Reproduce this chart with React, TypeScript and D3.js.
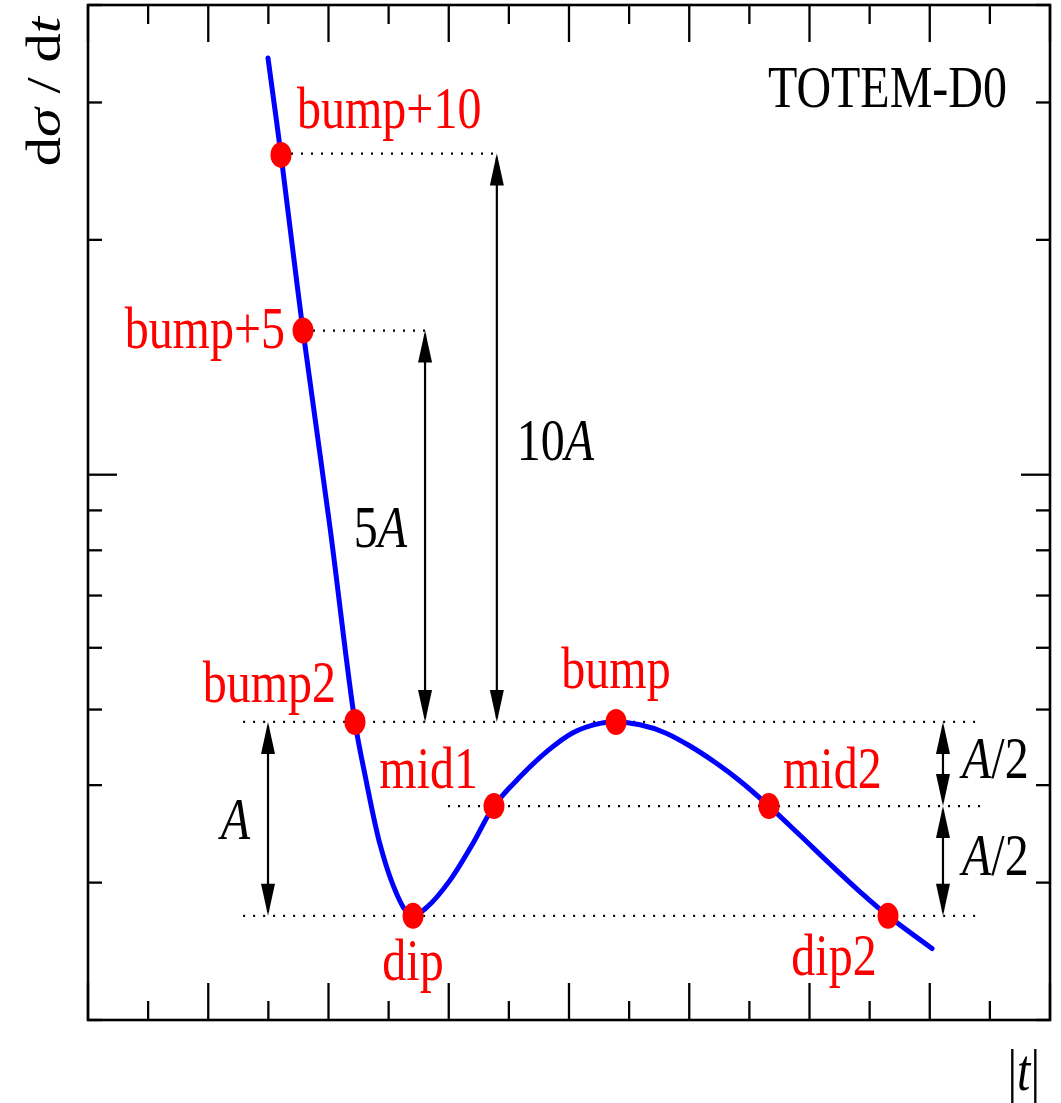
import * as d3 from 'd3';

// courbe dσ/dt en fonction de |t|
const curveT = [0.1497, 0.1605, 0.1788, 0.2012, 0.222, 0.2304, 0.2428, 0.2536, 0.2636, 0.2703, 0.2819, 0.301, 0.3202, 0.3376, 0.3593, 0.3817, 0.4033, 0.4258, 0.4391, 0.459, 0.4798, 0.5006, 0.5214, 0.5422, 0.5663, 0.5921, 0.617, 0.642, 0.6653, 0.7019];
const curveSigma = [34.2, 25.7, 15.29, 8.57, 4.82, 4.12, 3.36, 2.98, 2.77, 2.72, 2.79, 3.02, 3.37, 3.76, 4.1, 4.42, 4.67, 4.8, 4.82, 4.78, 4.67, 4.49, 4.28, 4.05, 3.76, 3.45, 3.17, 2.92, 2.72, 2.47];

// points caractéristiques
const pointNames = ['bump+10', 'bump+5', 'bump2', 'dip', 'mid1', 'bump', 'mid2', 'dip2'];
const pointT = [0.1605, 0.1788, 0.222, 0.2703, 0.3376, 0.4391, 0.5663, 0.6653];
const pointSigma = [25.7, 15.3, 4.82, 2.72, 3.76, 4.82, 3.76, 2.72];

// niveaux de référence (pointillés)
const levelValue = [25.8, 15.3, 4.82, 3.76, 2.72];
const levelFrom = [0.1605, 0.1788, 0.129, 0.2994, 0.129];
const levelTo = [0.34, 0.2803, 0.7418, 0.7418, 0.7418];

// flèches
const arrowLabels = ['10A', '5A', 'A', 'A/2', 'A/2'];
const arrowT = [0.34, 0.2803, 0.1497, 0.711, 0.711];
const arrowFrom = [25.8, 15.3, 4.82, 4.82, 3.76];
const arrowTo = [4.82, 4.82, 2.72, 3.76, 2.72];

const W = 1061, H = 1103;
const FONT = '"Liberation Serif", "DejaVu Serif", serif';
const FS = 48;
const K = 1.22; // étirement vertical du texte

// placement des étiquettes (décalages en px par rapport au point)
const pointLabelLayout = {
  'bump+10': { dx: 16, dy: -27, anchor: 'start' },
  'bump+5': { dx: -18, dy: 17, anchor: 'end' },
  'bump2': { dx: -19, dy: -20, anchor: 'end' },
  'dip': { dx: 0, dy: 64, anchor: 'middle' },
  'mid1': { dx: -16, dy: -18, anchor: 'end' },
  'bump': { dx: 0, dy: -34, anchor: 'middle' },
  'mid2': { dx: 14, dy: -18, anchor: 'start' },
  'dip2': { dx: -54, dy: 59, anchor: 'middle' },
};
const arrowLabelLayout = [
  { dx: 20, dy: 22, anchor: 'start' },
  { dx: -18, dy: 21, anchor: 'end' },
  { dx: -18, dy: 20, anchor: 'end' },
  { dx: 19, dy: 14, anchor: 'start' },
  { dx: 19, dy: 14, anchor: 'start' },
];

function Label({ x, y, anchor = 'start', fill = '#000', children }) {
  return (
    <text transform={`translate(${x},${y}) scale(1,${K})`} textAnchor={anchor}
      fontFamily={FONT} fontSize={FS} fill={fill}>
      {children}
    </text>
  );
}

// met les "A" en italique
function mathText(s) {
  return s.split('').map((c, i) =>
    c === 'A' ? <tspan key={i} fontStyle="italic">A</tspan> : <tspan key={i}>{c}</tspan>);
}

function Arrow({ x, y1, y2 }) {
  const hl = 32, hw = 7;
  const top = Math.min(y1, y2), bot = Math.max(y1, y2);
  return (
    <g>
      <line x1={x} x2={x} y1={top + 4} y2={bot - 4} stroke="#000" strokeWidth={2.2} />
      <polygon points={`${x},${top} ${x - hw},${top + hl} ${x + hw},${top + hl}`} fill="#000" />
      <polygon points={`${x},${bot} ${x - hw},${bot - hl} ${x + hw},${bot - hl}`} fill="#000" />
    </g>
  );
}

export default function App() {
  const left = 88, right = 1050, top = 5, bottom = 1020;
  const x = d3.scaleLinear().domain([0, 0.8]).range([left, right]);
  const y = d3.scaleLog().domain([2, 40]).range([bottom, top]);

  const line = d3.line()
    .x((_, i) => x(curveT[i]))
    .y((_, i) => y(curveSigma[i]))
    .curve(d3.curveCatmullRom.alpha(0.5));

  const xTicks = d3.range(0, 16.5).map(i => i * 0.05);
  const yTicks = y.ticks();

  return (
    <svg width={W} height={H} style={{ position: 'absolute', left: 0, top: 0, display: 'block', background: '#fff' }}>
      {/* ticks x (bas et haut) */}
      {xTicks.map((t, i) => {
        const len = i % 2 === 0 ? 37 : 19;
        const px = x(t);
        return (
          <g key={'xt' + i}>
            <line x1={px} x2={px} y1={bottom} y2={bottom - len} stroke="#000" strokeWidth={2.3} />
            <line x1={px} x2={px} y1={top} y2={top + len} stroke="#000" strokeWidth={2.3} />
          </g>
        );
      })}
      {/* ticks y (gauche et droite) */}
      {yTicks.map((v, i) => {
        const len = v === 10 ? 29 : 14;
        const py = y(v);
        return (
          <g key={'yt' + i}>
            <line x1={left} x2={left + len} y1={py} y2={py} stroke="#000" strokeWidth={2.3} />
            <line x1={right} x2={right - len} y1={py} y2={py} stroke="#000" strokeWidth={2.3} />
          </g>
        );
      })}
      <rect x={left} y={top} width={right - left} height={bottom - top} fill="none" stroke="#000" strokeWidth={2.6} />

      {/* niveaux en pointillés */}
      {levelValue.map((v, i) => (
        <line key={'lv' + i} x1={x(levelFrom[i])} x2={x(levelTo[i])} y1={y(v)} y2={y(v)}
          stroke="#000" strokeWidth={2.2} strokeDasharray="2 8" />
      ))}

      {/* flèches */}
      {arrowLabels.map((lab, i) => {
        const px = x(arrowT[i]);
        const y1 = y(arrowFrom[i]), y2 = y(arrowTo[i]);
        const l = arrowLabelLayout[i];
        return (
          <g key={'ar' + i}>
            <Arrow x={px} y1={y1} y2={y2} />
            <Label x={px + l.dx} y={(y1 + y2) / 2 + l.dy} anchor={l.anchor}>{mathText(lab)}</Label>
          </g>
        );
      })}

      {/* courbe */}
      <path d={line(curveT)} fill="none" stroke="#0000ff" strokeWidth={5} strokeLinejoin="round" strokeLinecap="round" />

      {/* points */}
      {pointNames.map((n, i) => {
        const px = x(pointT[i]), py = y(pointSigma[i]);
        const l = pointLabelLayout[n];
        return (
          <g key={'pt' + i}>
            <ellipse cx={px} cy={py} rx={10.5} ry={13} fill="#ff0000" />
            <Label x={px + l.dx} y={py + l.dy} anchor={l.anchor} fill="#ff0000">{n}</Label>
          </g>
        );
      })}

      <Label x={1007} y={107} anchor="end">TOTEM-D0</Label>

      {/* titres des axes */}
      <text transform={`translate(60,17) rotate(-90) scale(${K},1)`} textAnchor="end"
        fontFamily={FONT} fontSize={FS} fill="#000">
        d<tspan fontStyle="italic">σ</tspan> / d<tspan fontStyle="italic">t</tspan>
      </text>
      <Label x={1040} y={1090} anchor="end">|<tspan fontStyle="italic">t</tspan>|</Label>
    </svg>
  );
}
